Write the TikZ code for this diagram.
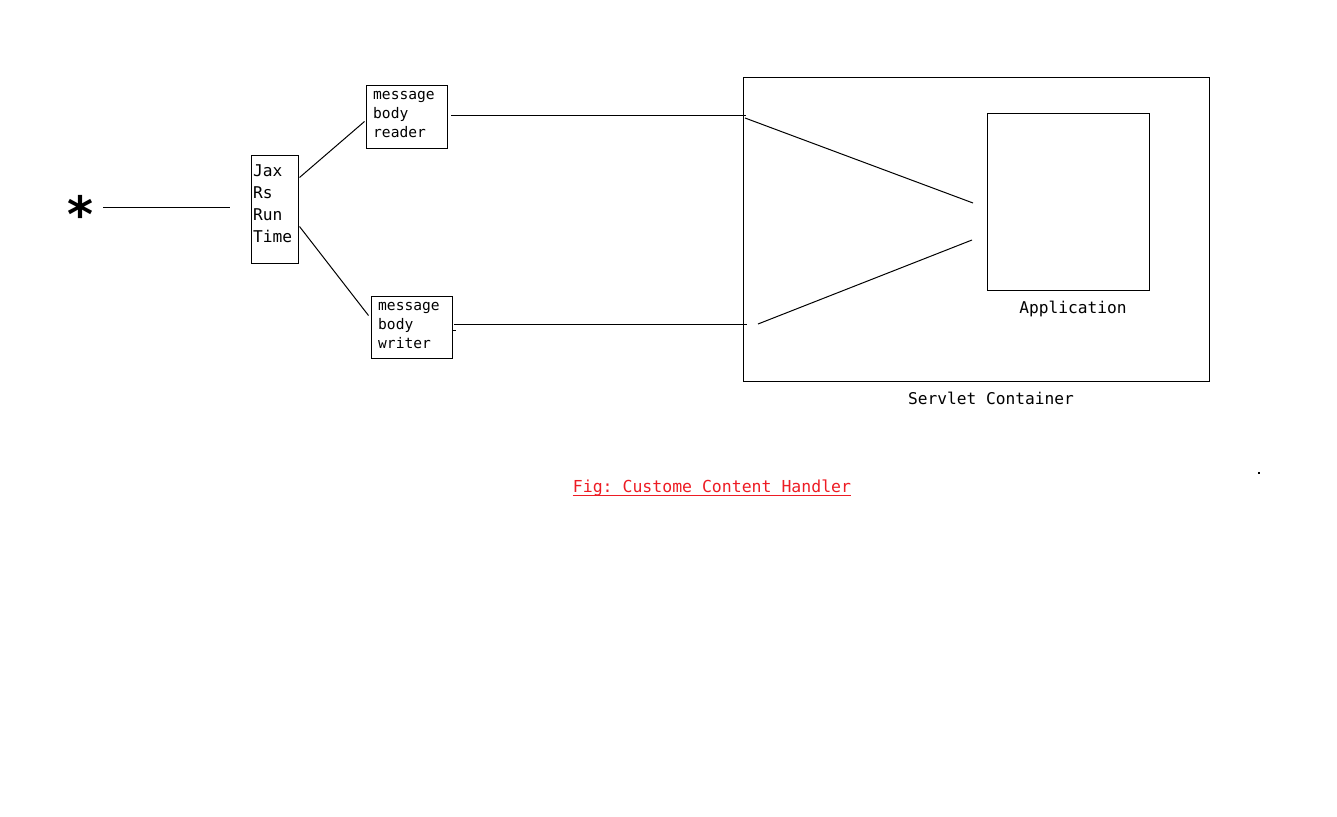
\documentclass[tikz,border=0pt]{standalone}
\usepackage{fontspec}
\setmonofont{DejaVu Sans Mono}
\usetikzlibrary{calc}
\definecolor{capred}{RGB}{237,28,36}
\tikzset{
  box/.style={draw, line width=1pt, inner sep=0pt},
  wire/.style={line width=1pt},
  lbl/.style={inner sep=0pt, align=left, font=\ttfamily\fontsize{16.2}{22}\selectfont},
  small/.style={inner sep=0pt, align=left, font=\ttfamily\fontsize{14.6}{19}\selectfont},
}
\begin{document}
\begin{tikzpicture}[x=1pt,y=-1pt]
\useasboundingbox (0,0) rectangle (1337,816);

% client marker
\node[inner sep=0pt, font=\ttfamily\bfseries\fontsize{50}{50}\selectfont] (star) at (81,214) {*};
\coordinate (starend) at (103,207);
\coordinate (rtin) at (230,207);

% JAX-RS runtime
\node[box, minimum width=47pt, minimum height=108pt] (jax) at (274.5,209) {};
\node[lbl, anchor=north west] (jaxtxt) at (253,164) {Jax\\Rs\\Run\\Time};

% message body reader / writer
\node[box, minimum width=81pt, minimum height=63pt] (reader) at (406.5,116.5) {};
\node[small, anchor=north west] (readertxt) at (373,91) {message\\body\\reader};
\node[box, minimum width=81pt, minimum height=62pt] (writer) at (411.5,327) {};
\node[small, anchor=north west] (writertxt) at (378,302) {message\\body\\writer};

% servlet container and application
\node[box, minimum width=466pt, minimum height=304pt] (cont) at (976,229) {};
\node[lbl, anchor=north] (conttxt) at (991,392) {Servlet Container};
\node[box, minimum width=162pt, minimum height=177pt] (app) at (1068,201.5) {};
\node[lbl, anchor=north] (apptxt) at (1073,301) {Application};

% caption
\node[lbl, anchor=north, text=capred, font=\ttfamily\fontsize{16.5}{22}\selectfont] (cap) at (712,480) {Fig: Custome Content Handler};
\draw[capred, line width=1pt] ($(cap.south west)+(0,-1.5)$) -- ($(cap.south east)+(0,-1.5)$);

% connector end points
\coordinate (jaxup) at ($(jax.north east)+(1,23)$);
\coordinate (jaxdn) at ($(jax.north east)+(1,72)$);
\coordinate (rdin) at ($(reader.north west)+(-1,37)$);
\coordinate (wrin) at ($(writer.north west)+(-2,20)$);
\coordinate (rdout) at (451,115);
\coordinate (cin1) at (746,115);
\coordinate (cd1) at (745,118);
\coordinate (appin1) at (973,203);
\coordinate (wrout) at (454,324);
\coordinate (cin2) at (747,324);
\coordinate (cd2) at (758,324);
\coordinate (appin2) at (972,240);

% connectors
\draw[wire] (starend) -- (rtin);
\draw[wire] (jaxup) -- (rdin);
\draw[wire] (jaxdn) -- (wrin);
\draw[wire] (rdout) -- (cin1);
\draw[wire] (cd1) -- (appin1);
\draw[wire] (wrout) -- (cin2);
\draw[wire] (cd2) -- (appin2);
\draw[wire] ($(writer.north east)+(0,35)$) -- ++(3,0);

% stray dot
\fill (1257.5,471.5) rectangle (1259.5,473.5);
\end{tikzpicture}
\end{document}
